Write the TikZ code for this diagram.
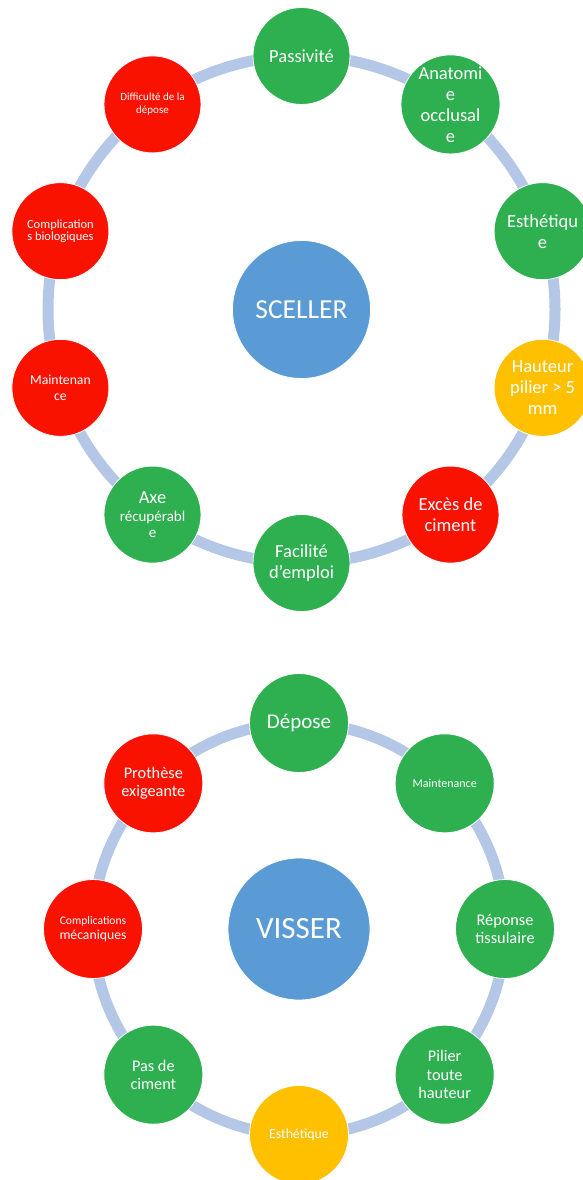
\documentclass[tikz,border=0pt]{standalone}
\usepackage{fontspec}
\setmainfont{Carlito}
\usetikzlibrary{calc}
\definecolor{cgreen}{HTML}{2EB050}
\definecolor{cred}{HTML}{FA1200}
\definecolor{cyellow}{HTML}{FFC000}
\definecolor{cblue}{HTML}{5B9BD5}
\definecolor{cring}{HTML}{B4C7E7}
\tikzset{
  bubble/.style={circle, inner sep=0pt, minimum size=97pt, draw=white, line width=0.8pt, text=white, align=center},
  bigbubble/.style={bubble, minimum size=99pt},
  hub/.style={circle, inner sep=0pt, fill=cblue, draw=white, line width=0.8pt, text=white, align=center},
  ring/.style={draw=cring, line width=11pt},
  gr/.style={fill=cgreen}, rd/.style={fill=cred}, ye/.style={fill=cyellow},
  f18/.style={font=\fontsize{18.5}{21}\selectfont},
  f16/.style={font=\fontsize{16.3}{18.3}\selectfont},
  f14/.style={font=\fontsize{13.7}{15.7}\selectfont},
}
\begin{document}
\begin{tikzpicture}[x=1pt,y=-1pt]
\useasboundingbox (0,0) rectangle (583,1180);
% ---------- SCELLER ----------
\coordinate (sc) at (301.5,309.5);
\draw[ring] (sc) circle [radius=253.5pt];
\node[hub, minimum size=138pt, font=\fontsize{27.5}{30}\selectfont] (sceller) at (sc) {SCELLER};
\node[bubble,gr,f18] (t1) at ($(sc)+(90:253.5pt)$) {Passivité};
\node[bubble,gr,f18] (t2) at ($(sc)+(54:253.5pt)$) {Anatomi\\e\\occlusal\\e};
\node[bubble,gr,f18] (t3) at ($(sc)+(18:253.5pt)$) {Esthétiqu\\e};
\node[bubble,ye,f18] (t4) at ($(sc)+(-18:253.5pt)$) {Hauteur\\pilier > 5\\mm};
\node[bubble,rd,f18] (t5) at ($(sc)+(-54:253.5pt)$) {Excès de\\ciment};
\node[bubble,gr,f18] (t6) at ($(sc)+(-90:253.5pt)$) {Facilité\\d’emploi};
\node[bubble,gr,font=\fontsize{15}{16}\selectfont] (t7) at ($(sc)+(-126:253.5pt)$) {{\fontsize{18.5}{19}\selectfont Axe}\\[2pt]récupérabl\\e};
\node[bubble,rd,f14] (t8) at ($(sc)+(-162:253.5pt)$) {Maintenan\\ce};
\node[bubble,rd,font=\fontsize{12.5}{12.5}\selectfont] (t9) at ($(sc)+(162:253.5pt)$) {Complication\\s biologiques};
\node[bubble,rd,font=\fontsize{11}{13}\selectfont] (t10) at ($(sc)+(126:253.5pt)$) {Difficulté de la\\dépose};
% ---------- VISSER ----------
\coordinate (vc) at (299,929);
\draw[ring] (vc) circle [radius=206pt];
\node[hub, minimum size=142pt, font=\fontsize{31}{34}\selectfont] (visser) at (vc) {VISSER};
\node[bigbubble,gr,font=\fontsize{21}{24}\selectfont] (b1) at ($(vc)+(90:206pt)$) {Dépose};
\node[bigbubble,gr,font=\fontsize{12}{14}\selectfont] (b2) at ($(vc)+(45:206pt)$) {Maintenance};
\node[bigbubble,gr,f16] (b3) at ($(vc)+(0:206pt)$) {Réponse\\tissulaire};
\node[bigbubble,gr,f16] (b4) at ($(vc)+(-45:206pt)$) {Pilier\\toute\\hauteur};
\node[bigbubble,ye,font=\fontsize{13.8}{16}\selectfont] (b5) at ($(vc)+(-90:206pt)$) {Esthétique};
\node[bigbubble,gr,f16] (b6) at ($(vc)+(-135:206pt)$) {Pas de\\ciment};
\node[bigbubble,rd,font=\fontsize{13.7}{14.5}\selectfont] (b7) at ($(vc)+(180:206pt)$) {{\fontsize{11.6}{13}\selectfont Complications}\\mécaniques};
\node[bigbubble,rd,f16] (b8) at ($(vc)+(135:206pt)$) {Prothèse\\exigeante};
\end{tikzpicture}
\end{document}
